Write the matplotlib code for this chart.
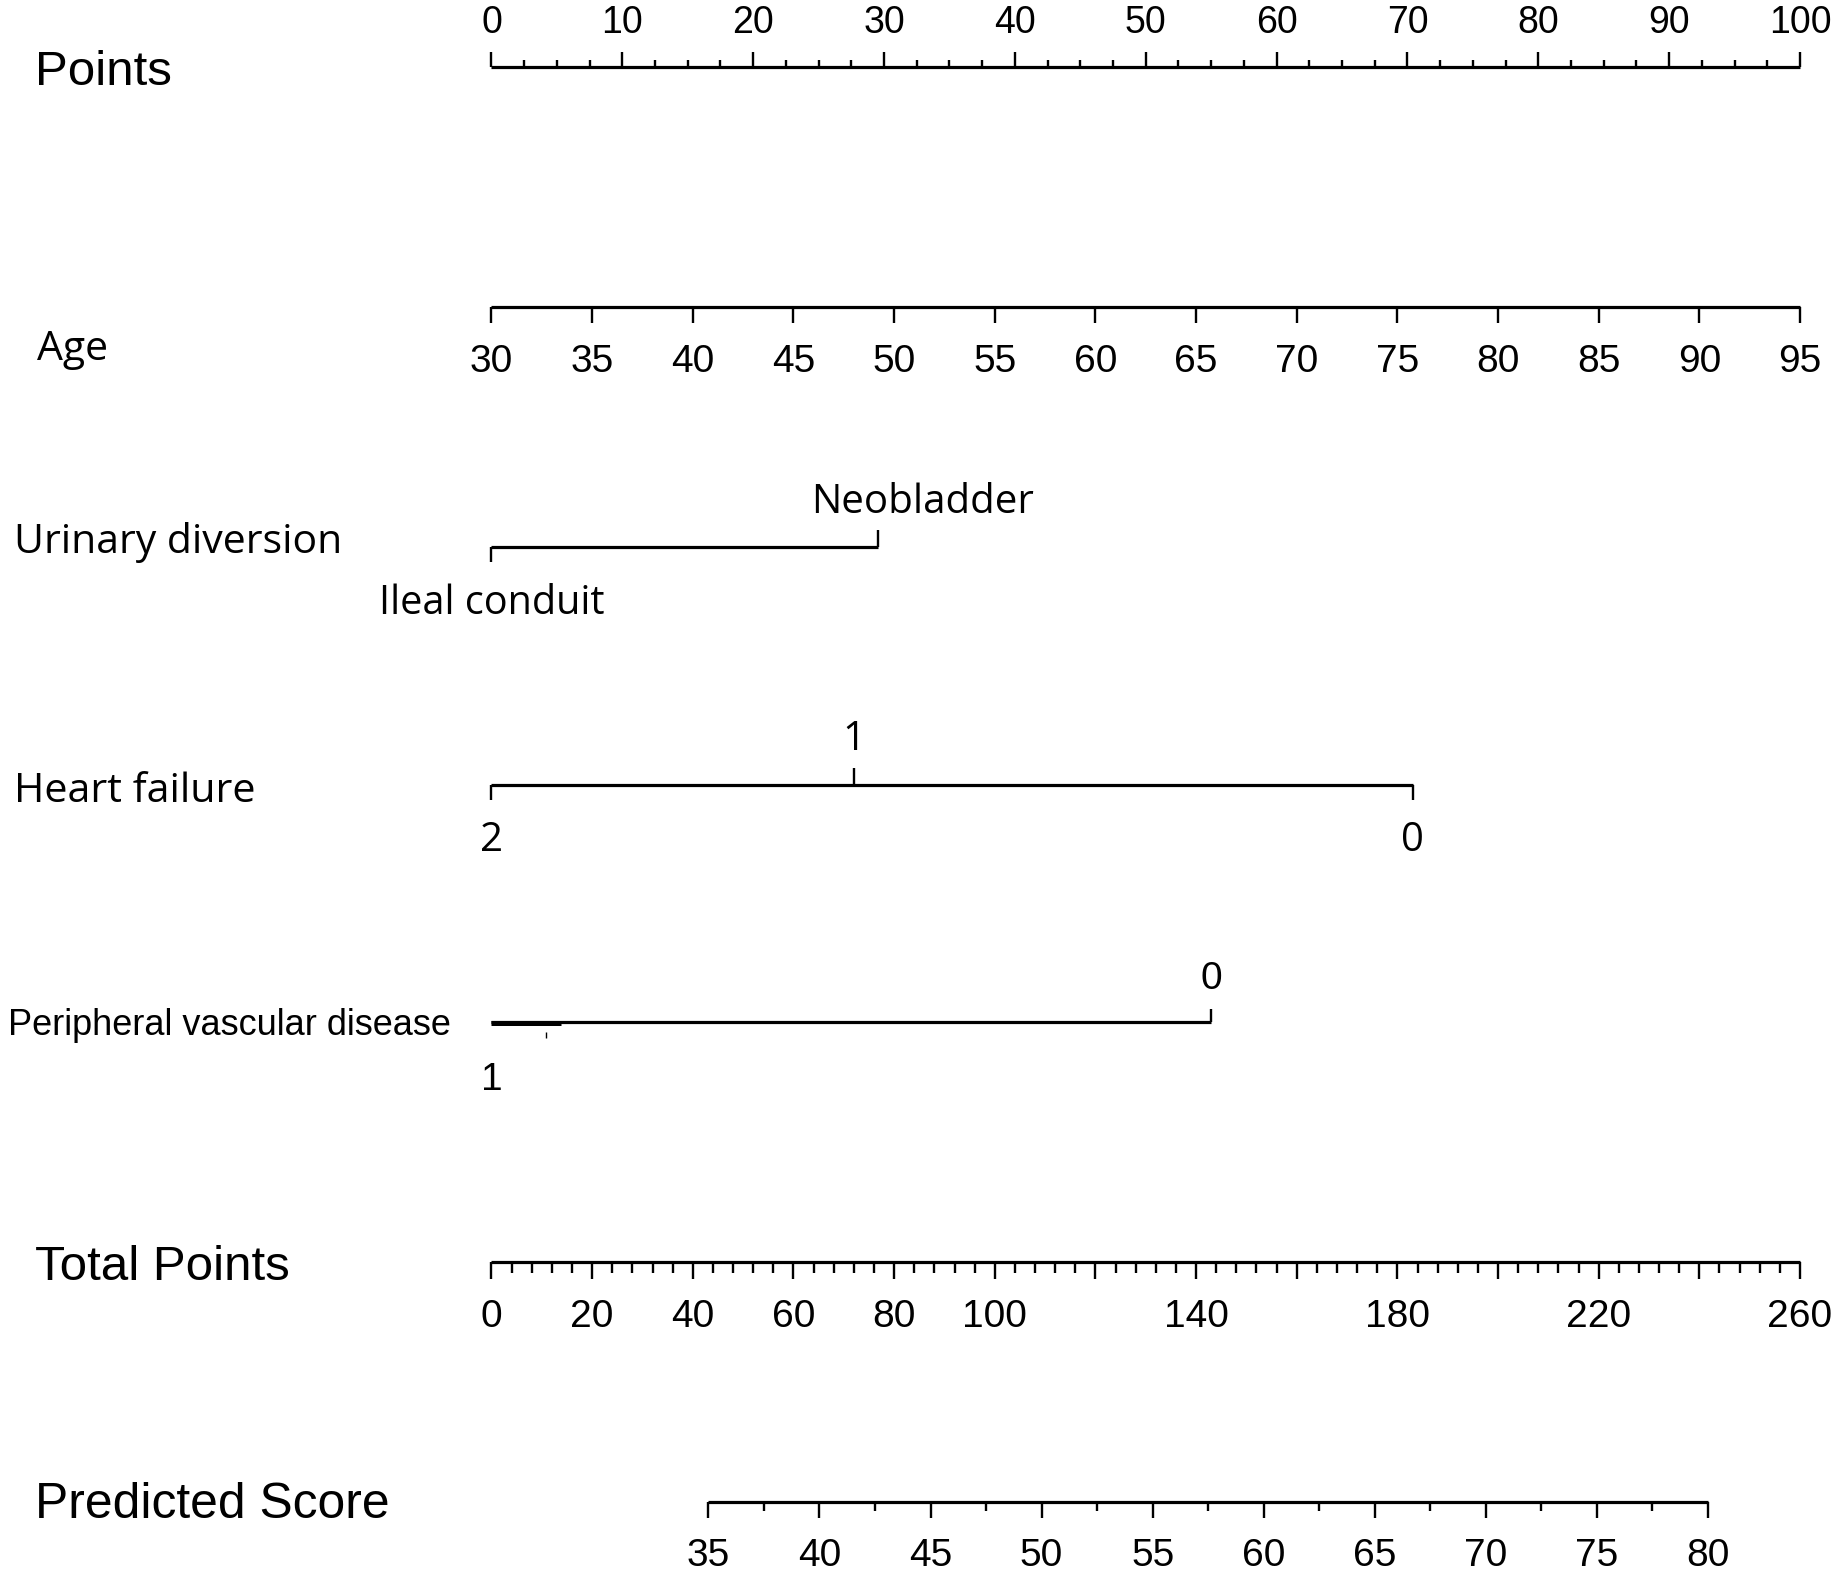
import numpy as np
import matplotlib
matplotlib.use("Agg")
import matplotlib.pyplot as plt

# ---------------- data ----------------
points_labels = list(range(0, 101, 10))
points_minor = list(np.arange(0, 100.01, 2.5))

age_labels = [30, 35, 40, 45, 50, 55, 60, 65, 70, 75, 80, 85, 90, 95]
age_range = (30, 95)
age_points_range = (0, 100)

urinary_levels = ["Ileal conduit", "Neobladder"]
urinary_points = [0.0, 29.5]

hf_levels = ["2", "1", "0"]
hf_points = [0.0, 27.7, 70.4]

pvd_levels = ["1", "0"]
pvd_points = [0.0, 55.0]

total_labels = [0, 20, 40, 60, 80, 100, 140, 180, 220, 260]
total_major = list(range(0, 261, 20))
total_minor = list(range(0, 261, 4))
total_max = 260

pred_labels = [35, 40, 45, 50, 55, 60, 65, 70, 75, 80]
pred_minor = list(np.arange(35, 80.01, 2.5))
pred_range = (35, 80)
pred_total_range = (43.1, 241.7)

# ---------------- layout ----------------
FIG_W, FIG_H = 1840, 1576
X0_PX, X100_PX = 491.5, 1800.0
scale = (X100_PX - X0_PX) / 100.0
xmin = -X0_PX / scale
xmax = (FIG_W - X0_PX) / scale


def px(xp):
    return xmin + xp / scale


ARIAL = "Liberation Sans"
HUMAN = "Open Sans"
LW = 2.3
TLW = 1.7

fig = plt.figure(figsize=(FIG_W / 100, FIG_H / 100), dpi=100)
ax = fig.add_axes([0, 0, 1, 1])
ax.set_xlim(xmin, xmax)
ax.set_ylim(FIG_H, 0)
ax.axis("off")


def hline(x0, x1, y, lw=LW):
    ax.plot([x0, x1], [y, y], color="black", lw=lw, solid_capstyle="butt")


def ticks(xs, y0, y1, lw=TLW):
    ax.vlines(xs, y0, y1, color="black", lw=lw)


# Points
hline(0, 100, 67)
ticks(points_labels, 52, 67)
ticks([v for v in points_minor if v % 10 != 0], 60, 67)
for v in points_labels:
    ax.text(v, 33, str(v), ha="center", va="baseline", fontsize=27, family=ARIAL)
ax.text(px(35), 85, "Points", ha="left", va="baseline", fontsize=35.5, family=ARIAL)

# Age
age_x = np.interp(age_labels, age_range, age_points_range)
hline(age_x[0], age_x[-1], 307)
ticks(age_x, 307, 323)
for v, x in zip(age_labels, age_x):
    ax.text(x, 372, str(v), ha="center", va="baseline", fontsize=28, family=ARIAL)
ax.text(px(37), 360, "Age", ha="left", va="baseline", fontsize=29.5, family=HUMAN)

# Urinary diversion
hline(urinary_points[0], urinary_points[1], 547)
ticks([urinary_points[0]], 547, 562)
ticks([urinary_points[1]], 530, 547)
ax.text(urinary_points[0], 614, urinary_levels[0], ha="center", va="baseline",
        fontsize=28.5, family=HUMAN)
ax.text(urinary_points[1] + (923 - 878.3) / scale, 513, urinary_levels[1], ha="center",
        va="baseline", fontsize=29, family=HUMAN)
ax.text(px(14), 553, "Urinary diversion", ha="left", va="baseline", fontsize=29.5, family=HUMAN)

# Heart failure
hline(min(hf_points), max(hf_points), 785)
ticks([hf_points[0], hf_points[2]], 785, 800)
ticks([hf_points[1]], 768, 785)
ax.text(hf_points[0], 851, hf_levels[0], ha="center", va="baseline", fontsize=29, family=HUMAN)
ax.text(hf_points[1], 750, hf_levels[1], ha="center", va="baseline", fontsize=29, family=HUMAN)
ax.text(hf_points[2], 851, hf_levels[2], ha="center", va="baseline", fontsize=29, family=HUMAN)
ax.text(px(14), 802, "Heart failure", ha="left", va="baseline", fontsize=29.7, family=HUMAN)

# Peripheral vascular disease
hline(pvd_points[0], pvd_points[1], 1022)
hline(pvd_points[0], 5.3, 1023, lw=3.6)
ticks([4.2], 1032, 1038, lw=1.0)
ticks([pvd_points[1]], 1009, 1022)
ax.text(pvd_points[0], 1090, pvd_levels[0], ha="center", va="baseline", fontsize=28, family=ARIAL)
ax.text(pvd_points[1], 989, pvd_levels[1], ha="center", va="baseline", fontsize=28, family=ARIAL)
ax.text(px(8), 1035, "Peripheral vascular disease", ha="left", va="baseline",
        fontsize=26, family=ARIAL)

# Total Points
def tot_x(t):
    return np.asarray(t, dtype=float) / total_max * 100.0


hline(0, 100, 1262)
ticks(tot_x(total_major), 1262, 1279)
ticks(tot_x([v for v in total_minor if v % 20 != 0]), 1262, 1273)
for v in total_labels:
    ax.text(tot_x(v), 1327, str(v), ha="center", va="baseline", fontsize=28, family=ARIAL)
ax.text(px(35), 1280, "Total Points", ha="left", va="baseline", fontsize=35.5, family=ARIAL)

# Predicted Score
def pred_x(s):
    return tot_x(np.interp(s, pred_range, pred_total_range))


hline(pred_x(pred_range[0]), pred_x(pred_range[1]), 1502)
ticks(pred_x(pred_labels), 1502, 1518)
ticks(pred_x([v for v in pred_minor if v % 5 != 0]), 1502, 1511)
for v in pred_labels:
    ax.text(pred_x(v), 1566, str(v), ha="center", va="baseline", fontsize=28, family=ARIAL)
ax.text(px(35), 1518, "Predicted Score", ha="left", va="baseline", fontsize=35.8, family=ARIAL)

fig.savefig("out.png", dpi=100, facecolor="white")
